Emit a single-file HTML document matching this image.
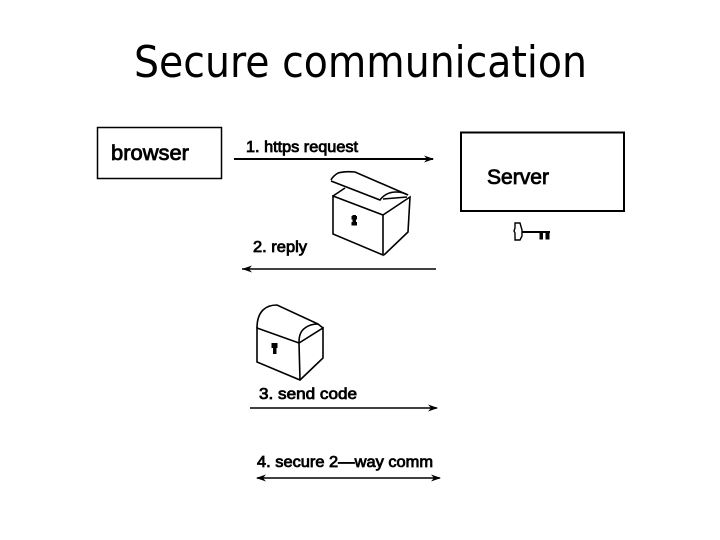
<!DOCTYPE html>
<html lang="en">
<head>
<meta charset="utf-8">
<title>Secure communication</title>
<style>
html,body{margin:0;padding:0;background:#fff;width:720px;height:540px;overflow:hidden}
svg{display:block}
.l{font-family:"Liberation Sans",sans-serif;fill:#000;stroke:#000;stroke-width:.8px}
</style>
</head>
<body>
<svg width="720" height="540" viewBox="0 0 720 540" xmlns="http://www.w3.org/2000/svg">
<rect width="720" height="540" fill="#fff"/>
<text x="134" y="77" font-family="'DejaVu Sans',sans-serif" font-size="44" textLength="453" lengthAdjust="spacingAndGlyphs" fill="#000">Secure communication</text>

<g fill="none" stroke="#000">
<rect x="97.500" y="127.500" width="124" height="51" stroke-width="1.500"/>
<rect x="461" y="132.500" width="163" height="78.500" stroke-width="2"/>

<path d="M234 159H433" stroke-width="2"/>
<path d="M242 269H436" stroke-width="1.600"/>
<path d="M250 408H437" stroke-width="1.500"/>
<path d="M257 478H440" stroke-width="1.500"/>

<!-- open box -->
<g stroke-width="1.600">
<path d="M331 180Q333 176 338 173Q345 171 355 172L408 195"/>
<path d="M331 181L380 200Q386 192 396 192Q403 192 408 195"/>
<path d="M383 199L407 197"/>
<path d="M333 196L383 215V255L333 234Z"/>
<path d="M383 215L410 197L408 232L384 255"/>
<path d="M333 196L345 188"/>
</g>

<!-- closed box -->
<g stroke-width="1.600">
<path d="M257 328Q257 316 263 310Q268 305 277 305L318 324"/>
<path d="M299 342Q299 332 305 328Q310 324 318 324L323 328"/>
<path d="M257 328L299 343L323 328V358L300 380L257 362Z"/>
<path d="M299 343L300 380"/>
</g>

<!-- key -->
<path d="M515 223H520L522 230V236L520 240H515V233L514 231L515 228Z" stroke-width="1.400"/>
<path d="M522 232H550" stroke-width="2"/>
</g>

<g fill="#000">
<path d="M434 159L424 155.500L427 159L424 162.500Z"/>
<path d="M242 269L252 265.500L249 269L252 272.500Z"/>
<path d="M438 408L428 404.500L431 408L428 411.500Z"/>
<path d="M441 478L431 474.500L434 478L431 481.500Z"/>
<path d="M256 478L266 474.500L263 478L266 481.500Z"/>
<rect x="352.500" y="215" width="3.500" height="10.500"/>
<rect x="351.500" y="216" width="5.500" height="3.500"/>
<rect x="351.500" y="222" width="5.500" height="3.500"/>
<rect x="273" y="347" width="3.500" height="7"/>
<rect x="271.500" y="343" width="6" height="5"/>
<rect x="539.500" y="232" width="3.500" height="7.500"/>
<rect x="545.500" y="232" width="4" height="7.500"/>
</g>

<text class="l" x="111" y="160" font-size="21" textLength="78" lengthAdjust="spacingAndGlyphs">browser</text>
<text class="l" x="487" y="184" font-size="21" textLength="62" lengthAdjust="spacingAndGlyphs">Server</text>
<text class="l" x="246" y="152" font-size="16" textLength="112" lengthAdjust="spacingAndGlyphs">1. https request</text>
<text class="l" x="253" y="252" font-size="16" textLength="54" lengthAdjust="spacingAndGlyphs">2. reply</text>
<text class="l" x="259" y="399" font-size="16" textLength="98" lengthAdjust="spacingAndGlyphs">3. send code</text>
<text class="l" x="257" y="467" font-size="16" textLength="176" lengthAdjust="spacingAndGlyphs">4. secure 2—way comm</text>
</svg>
</body>
</html>
